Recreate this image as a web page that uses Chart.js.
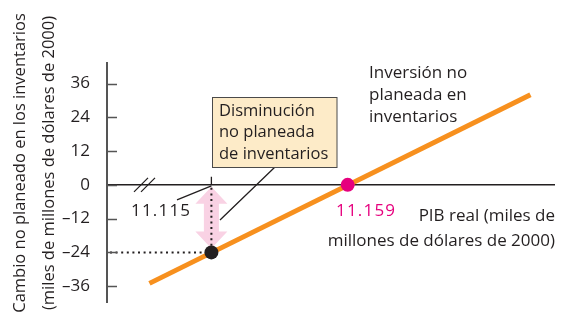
<!DOCTYPE html>
<html><head><meta charset="utf-8">
<script src="https://cdn.jsdelivr.net/npm/chart.js@4.4.0/dist/chart.umd.min.js"></script>
<style>html,body{margin:0;padding:0;background:#fff}canvas{display:block}</style>
</head><body>
<canvas id="c" width="561" height="322"></canvas>
<script>
// ---- data ----
const lineGDP = [11.095, 11.218];
const lineChange = [-35, 32];
const pointGDP = [11.115, 11.159];
const pointChange = [-24, 0];
const pointLabels = ['11.115', '11.159'];
const yTicks = [36, 24, 12, 0, -12, -24, -36];
const yTitle = ['Cambio no planeado en los inventarios', '(miles de millones de dólares de 2000)'];
const xTitle = ['PIB real (miles de', 'millones de dólares de 2000)'];
const lineLabel = ['Inversión no', 'planeada en', 'inventarios'];
const boxLabel = ['Disminución', 'no planeada', 'de inventarios'];

const FONT = '"Open Sans", Lato, sans-serif';
const FS = 17;
const TXT = '#231f20';
const ORANGE = '#f7901e';
const PINK = '#e6007e';

const annot = {
  id: 'annot',
  beforeDatasetsDraw(chart) {
    const {ctx, scales: {x, y}} = chart;
    const px = x.getPixelForValue(pointGDP[0]);
    const y0 = y.getPixelForValue(pointChange[1]) + 2;
    const y1 = y.getPixelForValue(pointChange[0]) - 4;
    // pink double arrow
    const hw = 16, hl = 17, sw = 7.5;
    ctx.save();
    ctx.fillStyle = '#f9d2e4';
    ctx.beginPath();
    ctx.moveTo(px, y0);
    ctx.lineTo(px + hw, y0 + hl);
    ctx.lineTo(px + sw, y0 + hl);
    ctx.lineTo(px + sw, y1 - hl);
    ctx.lineTo(px + hw, y1 - hl);
    ctx.lineTo(px, y1);
    ctx.lineTo(px - hw, y1 - hl);
    ctx.lineTo(px - sw, y1 - hl);
    ctx.lineTo(px - sw, y0 + hl);
    ctx.lineTo(px - hw, y0 + hl);
    ctx.closePath();
    ctx.fill();
    // dotted guides
    ctx.strokeStyle = '#231f20';
    ctx.lineWidth = 2;
    ctx.setLineDash([2, 3.6]);
    const py = y.getPixelForValue(pointChange[0]);
    ctx.beginPath();
    ctx.moveTo(px, y.getPixelForValue(0) + 3);
    ctx.lineTo(px, py);
    ctx.moveTo(chart.chartArea.left + 3, py);
    ctx.lineTo(px, py);
    ctx.stroke();
    ctx.setLineDash([]);
    // y ticks inside
    ctx.strokeStyle = '#555';
    ctx.lineWidth = 1.5;
    ctx.beginPath();
    yTicks.forEach(v => {
      const ty = Math.round(y.getPixelForValue(v)) + 0.5;
      ctx.moveTo(chart.chartArea.left, ty);
      ctx.lineTo(chart.chartArea.left + 10, ty);
    });
    ctx.stroke();
    // x tick at 11.115 and break marks
    const ax = y.getPixelForValue(0);
    ctx.strokeStyle = '#231f20';
    ctx.lineWidth = 1.3;
    ctx.beginPath();
    ctx.moveTo(px, ax - 8);
    ctx.lineTo(px, ax);
    ctx.moveTo(134, ax + 7); ctx.lineTo(148, ax - 7);
    ctx.moveTo(141, ax + 7); ctx.lineTo(155, ax - 7);
    // leader line for 11.115
    ctx.moveTo(177, ax + 15);
    ctx.lineTo(px, ax + 1);
    // leader from box
    ctx.moveTo(275, 167);
    ctx.lineTo(220, 220);
    ctx.stroke();
    ctx.restore();
  },
  afterDraw(chart) {
    const {ctx} = chart;
    ctx.save();
    ctx.fillStyle = TXT;
    ctx.textBaseline = 'middle';
    // y title
    ctx.font = '16.5px ' + FONT;
    ctx.save();
    ctx.translate(20, 163);
    ctx.rotate(-Math.PI / 2);
    ctx.textAlign = 'center';
    ctx.fillText(yTitle[0], 0, 0);
    ctx.fillText(yTitle[1], 0, 29);
    ctx.restore();
    ctx.font = FS + 'px ' + FONT;
    // box
    ctx.fillStyle = '#fdebc8';
    ctx.fillRect(212, 97.5, 125, 70);
    ctx.strokeStyle = '#4a4a4a';
    ctx.lineWidth = 1;
    ctx.strokeRect(212.5, 97.5, 124.5, 70);
    ctx.fillStyle = TXT;
    ctx.textAlign = 'left';
    ctx.font = '16.5px ' + FONT;
    boxLabel.forEach((t, i) => ctx.fillText(t, 219, 111 + i * 21.7));
    ctx.font = FS + 'px ' + FONT;
    // line label
    lineLabel.forEach((t, i) => ctx.fillText(t, 369, 73 + i * 22));
    // x title
    ctx.textAlign = 'right';
    ctx.fillText(xTitle[0], 555, 216);
    ctx.fillText(xTitle[1], 555, 241);
    // point labels
    ctx.textAlign = 'left';
    ctx.letterSpacing = '1.2px';
    ctx.fillText(pointLabels[0], 131, 211);
    ctx.fillStyle = PINK;
    ctx.fillText(pointLabels[1], 336, 211);
    ctx.restore();
  }
};

new Chart(document.getElementById('c'), {
  type: 'scatter',
  data: {
    datasets: [
      {
        data: lineGDP.map((g, i) => ({x: g, y: lineChange[i]})),
        showLine: true,
        borderColor: ORANGE,
        borderWidth: 5,
        borderCapStyle: 'butt',
        pointRadius: 0,
        order: 2
      },
      {
        data: [{x: pointGDP[0], y: pointChange[0]}],
        pointRadius: 7,
        pointBackgroundColor: '#231f20',
        pointBorderWidth: 0,
        order: 1
      },
      {
        data: [{x: pointGDP[1], y: pointChange[1]}],
        pointRadius: 7,
        pointBackgroundColor: PINK,
        pointBorderWidth: 0,
        order: 1
      }
    ]
  },
  options: {
    responsive: false,
    devicePixelRatio: 1,
    animation: false,
    events: [],
    layout: {padding: {left: 0, top: 63, right: 6, bottom: 19}},
    plugins: {legend: {display: false}, tooltip: {enabled: false}},
    scales: {
      x: {
        type: 'linear',
        min: 11.0813,
        max: 11.2256,
        position: {y: 0},
        grid: {display: false},
        ticks: {display: false},
        border: {display: true, color: '#231f20', width: 1.5}
      },
      y: {
        type: 'linear',
        min: -41.9,
        max: 43.3,
        position: 'left',
        afterBuildTicks(scale) { scale.ticks = yTicks.map(v => ({value: v})); },
        afterFit(scale) { scale.width = 107; },
        grid: {display: false},
        border: {display: true, color: '#555', width: 2},
        ticks: {
          padding: 9,
          color: TXT,
          font: {family: FONT, size: FS},
          callback: v => (v < 0 ? '\u2013' + Math.abs(v) : String(v))
        }
      }
    }
  },
  plugins: [annot]
});
</script>
</body></html>
